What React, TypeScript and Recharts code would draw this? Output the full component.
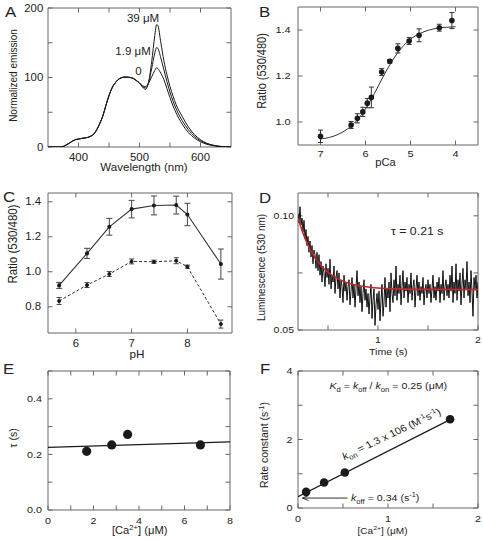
import React from 'react'
import { ComposedChart, Line, Scatter, XAxis, YAxis, ErrorBar, ReferenceLine } from 'recharts'

const FONT = '"Liberation Sans", Arial, Helvetica, sans-serif'
const INK = '#1a1a1a'
const AXIS = '#666'
const TXT = '#222'
// the source figure is slightly stretched horizontally, so text gets the same squash
const SX = 1.12

// A: emission spectra at three Ca2+ levels
const aWavelength = [350, 360, 370, 375, 380, 385, 390, 395, 400, 405, 410, 415, 420, 425, 430, 435, 440, 445, 450, 455, 460, 465, 470, 475, 480, 485, 490, 495, 500, 505, 510, 515, 520, 525, 528, 530, 535, 540, 545, 550, 555, 560, 570, 580, 590, 600, 610, 620, 630, 640, 650]
const aEmission0 = [0, 0, 0, 0.8, 3, 5.5, 8.5, 10.5, 11.5, 12.3, 13, 13.8, 15.5, 18.5, 25, 34, 45, 60, 74, 85, 92, 97, 99.5, 100.5, 100.5, 100, 98.5, 95.5, 92, 88, 87, 92, 101, 110, 114, 113, 106, 97, 84, 71, 59, 49, 33, 21, 13, 7.5, 4, 2, 0.8, 0.2, 0]
const aEmission19 = [0, 0, 0, 0.8, 3, 5.5, 8.5, 10.5, 11.5, 12.3, 13, 13.8, 15.5, 18.5, 25, 34, 45, 60, 74, 85, 92, 97, 99.5, 100.5, 100.5, 100, 98.5, 95.5, 92, 87, 85, 93, 113, 135, 143, 142, 128, 111, 94, 79, 66, 55, 38, 25, 15.5, 9, 5, 2.5, 1, 0.3, 0]
const aEmission39 = [0, 0, 0, 0.8, 3, 5.5, 8.5, 10.5, 11.5, 12.3, 13, 13.8, 15.5, 18.5, 25, 34, 45, 60, 74, 85, 92, 97, 99.5, 100.5, 100.5, 100, 98.5, 95.5, 92, 86, 83, 94, 123, 160, 176, 175, 150, 124, 104, 87, 73, 61, 44, 29, 18, 10.5, 5.5, 2.8, 1.2, 0.4, 0]
const aXTicks = [400, 450, 500, 550, 600]
const aXLabels = ['400', '', '500', '', '600']
const aYTicks = [0, 50, 100, 150, 200]
const aYLabels = ['0', '', '100', '', '200']

// B: ratio vs pCa titration
const bPCa = [7.0, 6.32, 6.18, 6.06, 5.96, 5.87, 5.64, 5.46, 5.28, 5.03, 4.81, 4.36, 4.08]
const bRatio = [0.938, 0.987, 1.016, 1.044, 1.082, 1.107, 1.217, 1.264, 1.32, 1.352, 1.377, 1.41, 1.441]
const bErr = [0.027, 0.015, 0.02, 0.02, 0.02, 0.045, 0.015, 0.008, 0.02, 0.015, 0.028, 0.015, 0.035]
const bFitPCa = [7.0, 6.8, 6.6, 6.4, 6.2, 6.0, 5.8, 5.6, 5.4, 5.2, 5.0, 4.8, 4.6, 4.4, 4.2, 4.0]
const bFitRatio = [0.926, 0.933, 0.947, 0.97, 1.005, 1.057, 1.125, 1.2, 1.268, 1.322, 1.36, 1.384, 1.399, 1.408, 1.412, 1.414]
const bXTicks = [4, 5, 6, 7]
const bXLabels = ['4', '5', '6', '7']
const bYTicks = [1.0, 1.2, 1.4]
const bYLabels = ['1.0', '1.2', '1.4']

// C: pH dependence, with and without Ca2+
const cPH = [5.7, 6.2, 6.6, 7.0, 7.4, 7.8, 8.0, 8.6]
const cRatioHigh = [0.922, 1.105, 1.257, 1.358, 1.379, 1.381, 1.327, 1.044]
const cErrHigh = [0.017, 0.029, 0.048, 0.05, 0.054, 0.051, 0.064, 0.086]
const cRatioLow = [0.833, 0.924, 0.987, 1.059, 1.057, 1.063, 1.029, 0.701]
const cErrLow = [0.02, 0.014, 0.014, 0.014, 0.009, 0.017, 0.009, 0.023]
const cXTicks = [6, 7, 8]
const cXLabels = ['6', '7', '8']
const cYTicks = [0.8, 1.0, 1.2, 1.4]
const cYLabels = ['0.8', '1.0', '1.2', '1.4']

// D: luminescence decay trace (sampled every 10 ms from 0.2 s)
const dStart = 0.2
const dStep = 0.01
const dLuminescence = [
  0.101, 0.097, 0.104, 0.096, 0.099, 0.093, 0.098, 0.090, 0.094, 0.087,
  0.091, 0.084, 0.089, 0.082, 0.087, 0.079, 0.085, 0.083, 0.077, 0.084,
  0.076, 0.083, 0.074, 0.080, 0.071, 0.078, 0.075, 0.069, 0.079, 0.073,
  0.077, 0.070, 0.081, 0.068, 0.074, 0.071, 0.078, 0.066, 0.073, 0.076,
  0.068, 0.075, 0.064, 0.072, 0.069, 0.062, 0.074, 0.067, 0.071, 0.063,
  0.069, 0.072, 0.061, 0.067, 0.073, 0.064, 0.070, 0.060, 0.068, 0.076,
  0.065, 0.071, 0.062, 0.069, 0.058, 0.066, 0.072, 0.063, 0.068, 0.060,
  0.066, 0.057, 0.064, 0.070, 0.055, 0.063, 0.068, 0.052, 0.061, 0.066,
  0.059, 0.067, 0.054, 0.063, 0.070, 0.056, 0.062, 0.073, 0.060, 0.068,
  0.064, 0.071, 0.058, 0.075, 0.066, 0.062, 0.072, 0.065, 0.078, 0.063,
  0.070, 0.066, 0.074, 0.061, 0.069, 0.076, 0.064, 0.071, 0.067, 0.073,
  0.062, 0.070, 0.066, 0.075, 0.063, 0.069, 0.072, 0.060, 0.068, 0.074,
  0.065, 0.071, 0.063, 0.069, 0.066, 0.073, 0.061, 0.068, 0.070, 0.064,
  0.072, 0.066, 0.070, 0.062, 0.068, 0.074, 0.064, 0.069, 0.063, 0.071,
  0.067, 0.073, 0.062, 0.070, 0.066, 0.076, 0.063, 0.069, 0.072, 0.065,
  0.070, 0.064, 0.074, 0.067, 0.078, 0.062, 0.071, 0.066, 0.079, 0.063,
  0.072, 0.067, 0.075, 0.061, 0.070, 0.077, 0.064, 0.072, 0.068, 0.080,
  0.065, 0.071, 0.062, 0.076, 0.067, 0.056, 0.073, 0.068, 0.074, 0.064,
  0.071,
]
const dFitTime = [0.2, 0.25, 0.3, 0.35, 0.4, 0.5, 0.6, 0.7, 0.8, 0.9, 1.0, 1.2, 1.5, 2.0]
const dFitValue = [0.099, 0.0924, 0.0872, 0.083, 0.0798, 0.0752, 0.0724, 0.0706, 0.0695, 0.0688, 0.0684, 0.068, 0.0678, 0.0677]
const dXTicks = [0.5, 1, 1.5, 2]
const dXLabels = ['', '1', '', '2']
const dYTicks = [0.05, 0.075, 0.1]
const dYLabels = ['0.05', '', '0.10']

// E: tau vs [Ca2+]
const eCa = [1.7, 2.8, 3.5, 6.7]
const eTau = [0.211, 0.234, 0.272, 0.234]
const eFitCa = [0, 8]
const eFitTau = [0.225, 0.245]
const eXTicks = [0, 1, 2, 3, 4, 5, 6, 7, 8]
const eXLabels = ['0', '', '2', '', '4', '', '6', '', '8']
const eYTicks = [0, 0.1, 0.2, 0.3, 0.4, 0.5]
const eYLabels = ['0.0', '', '0.2', '', '0.4', '']

// F: rate constant vs [Ca2+]
const fCa = [0.09, 0.29, 0.52, 1.69]
const fRate = [0.47, 0.745, 1.037, 2.59]
const fFitCa = [0, 1.69]
const fFitRate = [0.33, 2.58]
const fArrowRate = 0.29
const fArrowCa = [0.55, 0.05]
const fXTicks = [0, 0.5, 1, 1.5, 2]
const fXLabels = ['0', '', '1', '', '2']
const fYTicks = [0, 1, 2, 3, 4]
const fYLabels = ['0', '', '2', '', '4']

const pts = (xs: number[], ys: number[], es?: number[]) =>
  xs.map((x, i) => ({ x, y: ys[i], e: es ? es[i] : 0 }))

const aRows = aWavelength.map((x, i) => ({ x, e0: aEmission0[i], e19: aEmission19[i], e39: aEmission39[i] }))
const dRows = dLuminescence.map((y, i) => ({ x: +(dStart + i * dStep).toFixed(3), y }))

type Box = { x0: number; y0: number; x1: number; y1: number }
const boxA: Box = { x0: 47.5, y0: 7.5, x1: 230.5, y1: 146.5 }
const boxB: Box = { x0: 297.5, y0: 6.5, x1: 477.5, y1: 144.5 }
const boxC: Box = { x0: 47.5, y0: 192.5, x1: 231.5, y1: 332.5 }
const boxD: Box = { x0: 297.5, y0: 192.5, x1: 477.5, y1: 329.5 }
const boxE: Box = { x0: 47.5, y0: 370.5, x1: 229.5, y1: 509.5 }
const boxF: Box = { x0: 297.5, y0: 370.5, x1: 477.5, y1: 507.5 }

const ML = 46
const MT = 12
const MR = 10
const MB = 30

function Panel({ box, children }: { box: Box; children: React.ReactNode }) {
  const w = ML + box.x1 - box.x0 + MR
  const h = MT + box.y1 - box.y0 + MB
  return (
    <div style={{ position: 'absolute', left: box.x0 - ML, top: box.y0 - MT }}>
      <ComposedChart width={w} height={h} margin={{ top: MT, right: MR, bottom: 0, left: 0 }}>
        {children}
      </ComposedChart>
    </div>
  )
}

type AxCfg = {
  xDomain: number[]
  yDomain: number[]
  xTicks: number[]
  xLabels: string[]
  yTicks: number[]
  yLabels: string[]
  xBase: number // baseline of x tick labels below the frame
  yGap: number // gap between frame and y tick labels
  size: number
  reversed?: boolean
}

const label = (x: number, y: number, s: string, size: number, anchor: string) => (
  <text transform={`translate(${x},${y}) scale(${SX},1)`} textAnchor={anchor} fontSize={size} fontFamily={FONT} fill={TXT}>
    {s}
  </text>
)

// closed frame with inward ticks on all sides; corners come from the chart's scales via a diagonal segment
const frameShape = (c: AxCfg) => (p: any) => {
  const { x1, y1, x2, y2 } = p
  const left = Math.min(x1, x2)
  const right = Math.max(x1, x2)
  const top = Math.min(y1, y2)
  const bottom = Math.max(y1, y2)
  const fx = (v: number) => x1 + ((v - c.xDomain[0]) / (c.xDomain[1] - c.xDomain[0])) * (x2 - x1)
  const fy = (v: number) => y1 + ((v - c.yDomain[0]) / (c.yDomain[1] - c.yDomain[0])) * (y2 - y1)
  let d = `M${left},${top}L${right},${top}L${right},${bottom}L${left},${bottom}Z`
  c.xTicks.forEach((v) => {
    const x = fx(v)
    d += `M${x},${bottom}L${x},${bottom - 4.5}M${x},${top}L${x},${top + 4.5}`
  })
  c.yTicks.forEach((v) => {
    const y = fy(v)
    d += `M${left},${y}L${left + 4.5},${y}M${right},${y}L${right - 4.5},${y}`
  })
  return <path d={d} stroke={AXIS} strokeWidth={1} fill="none" />
}

function frame(c: AxCfg) {
  const xTick = (p: any) => {
    const i = c.xTicks.indexOf(p.payload.value)
    return c.xLabels[i] ? label(p.x, p.y + c.xBase, c.xLabels[i], c.size, 'middle') : <g />
  }
  const yTick = (p: any) => {
    const i = c.yTicks.indexOf(p.payload.value)
    return c.yLabels[i] ? label(p.x - c.yGap, p.y + c.size * 0.35, c.yLabels[i], c.size, 'end') : <g />
  }
  return [
    <XAxis key="x" type="number" dataKey="x" domain={c.xDomain} ticks={c.xTicks} interval={0} reversed={c.reversed}
      allowDataOverflow height={MB} axisLine={false} tickLine={false} tickSize={0} tickMargin={0} tick={xTick} />,
    <YAxis key="y" type="number" domain={c.yDomain} ticks={c.yTicks} interval={0} allowDataOverflow
      width={ML} axisLine={false} tickLine={false} tickSize={0} tickMargin={0} tick={yTick} />,
    <ReferenceLine key="frame" segment={[{ x: c.xDomain[0], y: c.yDomain[0] }, { x: c.xDomain[1], y: c.yDomain[1] }]}
      ifOverflow="visible" shape={frameShape(c)} stroke={AXIS} />,
  ]
}

const dotShape = (r: number) => (p: any) => <circle cx={p.cx} cy={p.cy} r={r} fill={INK} />

function Arrow(p: any) {
  const { x1, y1, x2, y2 } = p
  const dx = x2 - x1
  const dy = y2 - y1
  const len = Math.hypot(dx, dy) || 1
  const ux = dx / len
  const uy = dy / len
  const bx = x2 - ux * 6
  const by = y2 - uy * 6
  return (
    <g stroke={INK} strokeWidth={0.9} fill="none">
      <line x1={x1} y1={y1} x2={x2} y2={y2} />
      <polyline points={`${bx - uy * 2.5},${by + ux * 2.5} ${x2},${y2} ${bx + uy * 2.5},${by - ux * 2.5}`} />
    </g>
  )
}

function Txt({ x, y, size = 10.5, anchor = 'middle', rotate = 0, children }: any) {
  const t = `translate(${x},${y}) scale(${SX},1)` + (rotate ? ` rotate(${rotate})` : '')
  return (
    <text transform={t} fontSize={size} textAnchor={anchor} fontFamily={FONT} fill={TXT}>
      {children}
    </text>
  )
}

const sub = (s: string) => <tspan fontSize="0.72em" dy={2.5}>{s}</tspan>
const sup = (s: string) => <tspan fontSize="0.68em" dy={-3.8}>{s}</tspan>

const cfgA: AxCfg = { xDomain: [350, 650], yDomain: [0, 200], xTicks: aXTicks, xLabels: aXLabels, yTicks: aYTicks, yLabels: aYLabels, xBase: 13.5, yGap: 4.7, size: 10.2 }
const cfgB: AxCfg = { xDomain: [3.5, 7.5], yDomain: [0.9, 1.5], xTicks: bXTicks, xLabels: bXLabels, yTicks: bYTicks, yLabels: bYLabels, xBase: 11.5, yGap: 7.3, size: 9.8, reversed: true }
const cfgC: AxCfg = { xDomain: [5.5, 8.8], yDomain: [0.65, 1.45], xTicks: cXTicks, xLabels: cXLabels, yTicks: cYTicks, yLabels: cYLabels, xBase: 14, yGap: 7, size: 10.2 }
const cfgD: AxCfg = { xDomain: [0.2, 2], yDomain: [0.05, 0.11], xTicks: dXTicks, xLabels: dXLabels, yTicks: dYTicks, yLabels: dYLabels, xBase: 13.4, yGap: 4, size: 9.4 }
const cfgE: AxCfg = { xDomain: [0, 8], yDomain: [0, 0.5], xTicks: eXTicks, xLabels: eXLabels, yTicks: eYTicks, yLabels: eYLabels, xBase: 14.3, yGap: 6, size: 9.6 }
const cfgF: AxCfg = { xDomain: [0, 2], yDomain: [0, 4], xTicks: fXTicks, xLabels: fXLabels, yTicks: fYTicks, yLabels: fYLabels, xBase: 14, yGap: 5.6, size: 9.6 }

export default function App() {
  return (
    <div style={{ position: 'absolute', left: 0, top: 0, width: 483, height: 542, background: '#fff' }}>
      <Panel box={boxA}>
        {frame(cfgA)}
        <Line data={aRows} dataKey="e0" type="monotone" stroke={INK} strokeWidth={1} dot={false} isAnimationActive={false} />
        <Line data={aRows} dataKey="e19" type="monotone" stroke={INK} strokeWidth={1} dot={false} isAnimationActive={false} />
        <Line data={aRows} dataKey="e39" type="monotone" stroke={INK} strokeWidth={1} dot={false} isAnimationActive={false} />
      </Panel>

      <Panel box={boxB}>
        {frame(cfgB)}
        <Line data={pts(bFitPCa, bFitRatio)} dataKey="y" type="monotone" stroke="#333" strokeWidth={1} dot={false} isAnimationActive={false} />
        <Scatter data={pts(bPCa, bRatio, bErr)} dataKey="y" shape={dotShape(2.8)} isAnimationActive={false}>
          <ErrorBar dataKey="e" direction="y" width={2.5} stroke="#333" strokeWidth={1} />
        </Scatter>
      </Panel>

      <Panel box={boxC}>
        {frame(cfgC)}
        <Line data={pts(cPH, cRatioHigh, cErrHigh)} dataKey="y" type="linear" stroke="#333" strokeWidth={1.1}
          dot={{ r: 1.5, fill: INK, stroke: INK }} isAnimationActive={false}>
          <ErrorBar dataKey="e" direction="y" width={3} stroke="#444" strokeWidth={1} />
        </Line>
        <Line data={pts(cPH, cRatioLow, cErrLow)} dataKey="y" type="linear" stroke="#333" strokeWidth={1} strokeDasharray="3 2"
          dot={{ r: 1.5, fill: INK, stroke: INK, strokeDasharray: '' }} isAnimationActive={false}>
          <ErrorBar dataKey="e" direction="y" width={2.5} stroke="#444" strokeWidth={1} />
        </Line>
      </Panel>

      <Panel box={boxD}>
        {frame(cfgD)}
        <Line data={dRows} dataKey="y" type="linear" stroke="#111" strokeWidth={1} dot={false} isAnimationActive={false} />
        <Line data={pts(dFitTime, dFitValue)} dataKey="y" type="monotone" stroke="#c1272d" strokeWidth={1.6} dot={false} isAnimationActive={false} />
      </Panel>

      <Panel box={boxE}>
        {frame(cfgE)}
        <Line data={pts(eFitCa, eFitTau)} dataKey="y" type="linear" stroke={INK} strokeWidth={1.2} dot={false} isAnimationActive={false} />
        <Scatter data={pts(eCa, eTau)} dataKey="y" shape={dotShape(4.6)} isAnimationActive={false} />
      </Panel>

      <Panel box={boxF}>
        {frame(cfgF)}
        <Line data={pts(fFitCa, fFitRate)} dataKey="y" type="linear" stroke={INK} strokeWidth={1.2} dot={false} isAnimationActive={false} />
        <Scatter data={pts(fCa, fRate)} dataKey="y" shape={dotShape(4.3)} isAnimationActive={false} />
        <ReferenceLine segment={[{ x: fArrowCa[0], y: fArrowRate }, { x: fArrowCa[1], y: fArrowRate }]} shape={Arrow} stroke={INK} />
      </Panel>

      <svg width={483} height={542} style={{ position: 'absolute', left: 0, top: 0, pointerEvents: 'none' }}>
        {/* panel letters */}
        <Txt x={5} y={16.5} size={15} anchor="start">A</Txt>
        <Txt x={259} y={16.5} size={15} anchor="start">B</Txt>
        <Txt x={3} y={201.5} size={15} anchor="start">C</Txt>
        <Txt x={259} y={202.5} size={15} anchor="start">D</Txt>
        <Txt x={3} y={373.5} size={15} anchor="start">E</Txt>
        <Txt x={260} y={373.5} size={15} anchor="start">F</Txt>

        {/* A */}
        <Txt x={17} y={75.5} size={10} rotate={-90}>Normalized emission</Txt>
        <Txt x={144} y={170.5} size={10.3}>Wavelength (nm)</Txt>
        <Txt x={143} y={22} size={10.3}>39 μM</Txt>
        <Txt x={133} y={55} size={10.3}>1.9 μM</Txt>
        <Txt x={138.5} y={75} size={10.3}>0</Txt>

        {/* B */}
        <Txt x={265.5} y={71} size={11} rotate={-90}>Ratio (530/480)</Txt>
        <Txt x={385.5} y={166} size={10}>pCa</Txt>

        {/* C */}
        <Txt x={16.5} y={244} size={11.5} rotate={-90}>Ratio (530/480)</Txt>
        <Txt x={137} y={357.5} size={10.5}>pH</Txt>

        {/* D */}
        <Txt x={265} y={267.5} size={10} rotate={-90}>Luminescence (530 nm)</Txt>
        <Txt x={388.3} y={354.5} size={9.5}>Time (s)</Txt>
        <Txt x={391} y={235} size={11} anchor="start">τ = 0.21 s</Txt>

        {/* E */}
        <Txt x={16.5} y={438} size={10.5} rotate={-90}>τ (s)</Txt>
        <Txt x={139.7} y={534} size={10}>[Ca{sup('2+')}<tspan dy={3.8}>] (μM)</tspan></Txt>

        {/* F */}
        <Txt x={268} y={445} size={10.5} rotate={-90}>Rate constant (s{sup('-1')}<tspan dy={3.8}>)</tspan></Txt>
        <Txt x={382.5} y={534} size={9}>[Ca{sup('2+')}<tspan dy={3.8}>] (μM)</tspan></Txt>
        <Txt x={388.3} y={389} size={9.5}>
          <tspan fontStyle="italic">K</tspan>{sub('d')}<tspan dy={-2.5}>{' = '}</tspan>
          <tspan fontStyle="italic">k</tspan>{sub('off')}<tspan dy={-2.5}>{' / '}</tspan>
          <tspan fontStyle="italic">k</tspan>{sub('on')}<tspan dy={-2.5}>{' = 0.25 (μM)'}</tspan>
        </Txt>
        <Txt x={393} y={437} size={9.8} rotate={-28}>
          <tspan fontStyle="italic">k</tspan>{sub('on')}<tspan dy={-2.5}>{' = 1.3 x 106 (M'}</tspan>
          {sup('-1')}<tspan dy={3.8}>s</tspan>{sup('-1')}<tspan dy={3.8}>)</tspan>
        </Txt>
        <Txt x={351} y={501} size={9.5} anchor="start">
          <tspan fontStyle="italic">k</tspan>{sub('off')}<tspan dy={-2.5}>{' = 0.34 (s'}</tspan>
          {sup('-1')}<tspan dy={3.8}>)</tspan>
        </Txt>
      </svg>
    </div>
  )
}
